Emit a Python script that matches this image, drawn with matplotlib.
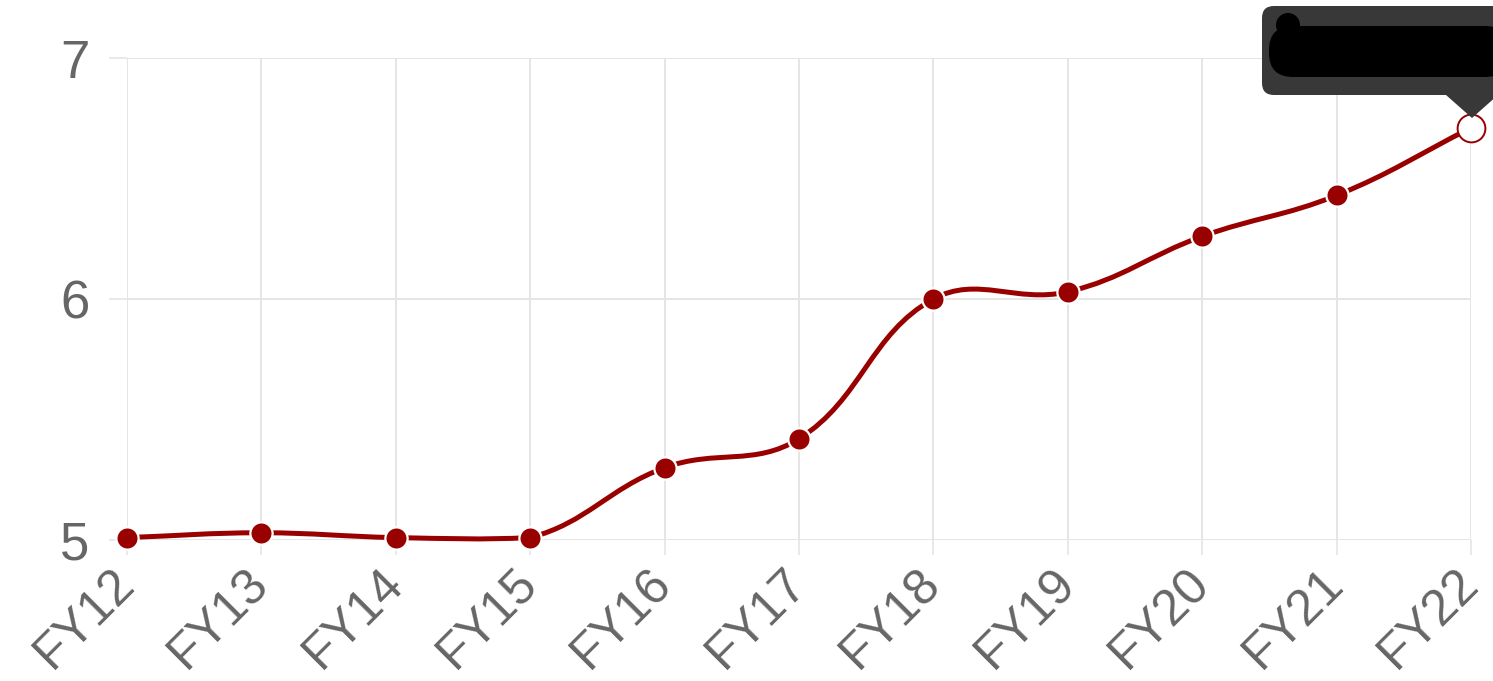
import numpy as np
import matplotlib

matplotlib.use("Agg")
import matplotlib.pyplot as plt
from matplotlib.path import Path
from matplotlib.patches import PathPatch, FancyBboxPatch, Polygon, Circle

plt.rcParams["font.family"] = ["Liberation Sans", "DejaVu Sans"]

# data
labels = ["FY12", "FY13", "FY14", "FY15", "FY16", "FY17",
          "FY18", "FY19", "FY20", "FY21", "FY22"]
values = [5.01, 5.03, 5.01, 5.01, 5.30, 5.42, 6.00, 6.03, 6.26, 6.43, 6.71]
y_ticks = [5, 6, 7]

RED = "#990000"
GRID = "#e5e5e5"
TEXT = "#666666"
W, H = 1493, 681

fig = plt.figure(figsize=(W / 100, H / 100), dpi=100)
left, right, top, bottom = 127, 1471, 58, 540
ax = fig.add_axes([left / W, 1 - bottom / H, (right - left) / W, (bottom - top) / H])

x = np.arange(len(labels))
ax.set_xlim(0, len(labels) - 1)
ax.set_ylim(5, 7)

for s in ax.spines.values():
    s.set_visible(False)
ax.set_xticks(x)
ax.set_xticklabels(labels, rotation=45, ha="right", va="center",
                   rotation_mode="anchor", fontsize=36, color=TEXT)
ax.set_yticks(y_ticks)
ax.set_yticklabels([str(v) for v in y_ticks], fontsize=38, color=TEXT)
ax.tick_params(axis="x", length=11, width=1.2, color=GRID, pad=15)
ax.tick_params(axis="y", length=13, width=1.2, color=GRID, pad=14)
ax.grid(True, color=GRID, linewidth=1.4)
ax.set_axisbelow(True)

# smooth line like Chart.js (tension 0.4), computed in pixel space
pts = ax.transData.transform(np.column_stack([x, values]))
t = 0.4
n = len(pts)
cp_prev = np.zeros_like(pts)
cp_next = np.zeros_like(pts)
for i in range(n):
    p = pts[i]
    a = pts[i - 1] if i > 0 else p
    b = pts[i + 1] if i < n - 1 else p
    d01 = np.hypot(*(p - a))
    d12 = np.hypot(*(b - p))
    tot = d01 + d12
    s01 = d01 / tot if tot else 0
    s12 = d12 / tot if tot else 0
    cp_prev[i] = p - t * s01 * (b - a)
    cp_next[i] = p + t * s12 * (b - a)

inv = ax.transData.inverted()
cp_prev = inv.transform(cp_prev)
cp_next = inv.transform(cp_next)
cp_prev[:, 1] = np.clip(cp_prev[:, 1], 5, 7)
cp_next[:, 1] = np.clip(cp_next[:, 1], 5, 7)

verts = [(x[0], values[0])]
codes = [Path.MOVETO]
for i in range(n - 1):
    verts += [tuple(cp_next[i]), tuple(cp_prev[i + 1]), (x[i + 1], values[i + 1])]
    codes += [Path.CURVE4] * 3
ax.add_patch(PathPatch(Path(verts, codes), facecolor="none", edgecolor=RED,
                       linewidth=3.6, capstyle="round", zorder=3, clip_on=False))

ax.plot(x[:-1], values[:-1], "o", color=RED, markersize=16,
        markeredgecolor="white", markeredgewidth=1.6, zorder=4, clip_on=False)
ax.plot(x[-1:], values[-1:], "o", color="white", markersize=20,
        markeredgecolor=RED, markeredgewidth=1.4, zorder=4, clip_on=False)

# hover tooltip (content redacted in the reference)
tip = "#383838"
fig.patches.append(FancyBboxPatch((1262, H - 95), 300, 89,
                                  boxstyle="round,pad=0,rounding_size=12",
                                  facecolor=tip, edgecolor="none",
                                  transform=None, figure=fig, zorder=10))
fig.patches.append(Polygon([(1446, H - 95), (1498, H - 95), (1472, H - 118)],
                           closed=True, facecolor=tip, edgecolor="none",
                           transform=None, figure=fig, zorder=10))
fig.patches.append(FancyBboxPatch((1269, H - 77), 240, 51,
                                  boxstyle="round,pad=0,rounding_size=24",
                                  facecolor="black", edgecolor="none",
                                  transform=None, figure=fig, zorder=11))
fig.patches.append(Circle((1288, H - 25), 12, facecolor="black",
                          edgecolor="none", transform=None, figure=fig, zorder=11))

fig.savefig("out.png", dpi=100)
